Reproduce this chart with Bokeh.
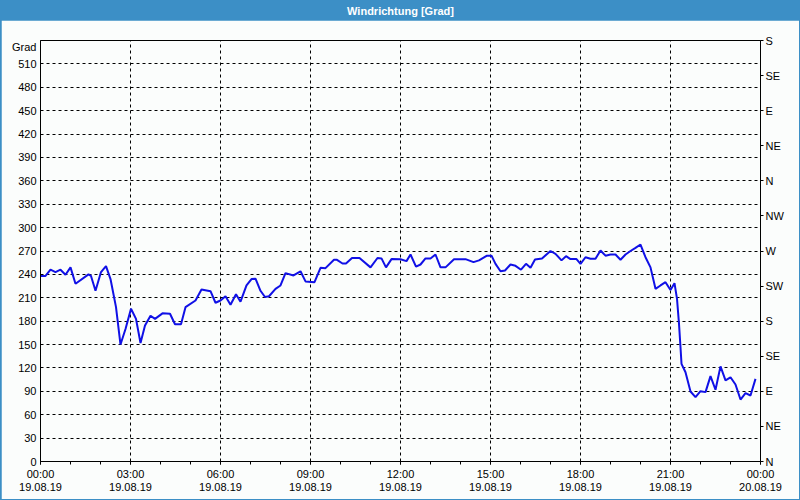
from bokeh.plotting import figure
from bokeh.models import (Range1d, LinearAxis, FixedTicker, ColumnDataSource)
from bokeh.layouts import column
from bokeh.embed import file_html
from bokeh.resources import INLINE
from bokeh.core.properties import value

# ---- data (minutes since 19.08.19 00:00, wind direction in degrees) ----
times_min = [0, 10, 20, 30, 40, 50, 60, 70, 96, 101, 110, 121, 131, 140, 151, 160, 170, 181, 191, 200,
             209, 220, 229, 244, 259, 269, 281, 290, 310, 322, 340, 350, 360, 370, 380, 391, 400, 412,
             422, 430, 440, 449, 457, 470, 480, 490, 506, 520, 530, 548, 560, 570, 587, 593, 604, 611,
             623, 638, 660, 674, 682, 691, 702, 720, 732, 740, 751, 760, 770, 780, 790, 800, 810, 827,
             850, 866, 877, 893, 902, 910, 920, 929, 940, 950, 961, 971, 980, 989, 1003, 1020, 1030,
             1042, 1051, 1060, 1072, 1080, 1090, 1100, 1110, 1120, 1130, 1140, 1150, 1160, 1170, 1180,
             1190, 1200, 1210, 1220, 1230, 1240, 1250, 1260, 1268, 1273, 1277, 1280, 1282, 1290, 1300,
             1310, 1320, 1330, 1340, 1350, 1360, 1370, 1380, 1390, 1400, 1410, 1420, 1430]
direction = [238, 238, 246, 243, 246, 239.5, 249, 228, 240, 238, 219, 243, 250.5, 234, 198, 150, 170, 196,
             183, 152, 174.5, 187, 183, 190, 189.5, 176, 176, 198, 206.5, 220.6, 218.5, 203.6, 206.5,
             212, 201, 214.6, 205, 225.8, 234, 234.5, 219, 211, 212, 221.5, 225.8, 241.6, 238.6, 244,
             231, 230, 248.5, 248, 258.7, 258.7, 254, 254, 261, 261, 249, 261, 260.5, 249, 259.6, 259.4,
             257, 265.5, 250, 252.7, 260.4, 260.4, 265.5, 249, 249, 259.5, 259.5, 255.7, 258, 264, 264,
             253.5, 244, 245, 252.7, 251, 246, 253.5, 248.4, 259, 260.5, 270, 266.4, 258, 263.4, 259.6,
             259.6, 253.5, 262, 260, 260, 270.7, 264, 265.5, 265.5, 258.7, 265.5, 270, 274, 278.3, 262,
             249, 221.5, 225.8, 230, 220, 228.7, 208.7, 176.6, 146.6, 125.3, 114.5, 89.8, 82.5, 90.2,
             89, 109.5, 92, 122, 104, 108, 98.8, 79.5, 87.6, 84.7, 106]

x_tick_hours = [0, 3, 6, 9, 12, 15, 18, 21, 24]
x_tick_times = ["00:00", "03:00", "06:00", "09:00", "12:00", "15:00", "18:00", "21:00", "00:00"]
x_tick_dates = ["19.08.19", "19.08.19", "19.08.19", "19.08.19", "19.08.19", "19.08.19",
                "19.08.19", "19.08.19", "20.08.19"]
y_ticks = [0, 30, 60, 90, 120, 150, 180, 210, 240, 270, 300, 330, 360, 390, 420, 450, 480, 510]
compass_ticks = [0, 45, 90, 135, 180, 225, 270, 315, 360, 405, 450, 495, 540]
compass_labels = ["N", "NE", "E", "SE", "S", "SW", "W", "NW", "N", "NE", "E", "SE", "S"]
title_text = "Windrichtung [Grad]"
unit_text = "Grad"
unit_pos = 532

FONT = "Liberation Sans"
BG = "#fbfdfc"
BLUE = "#3c8fc6"

# ---- title bar ----
tb = figure(width=800, height=20, output_backend="svg", toolbar_location=None,
            x_range=Range1d(0, 1), y_range=Range1d(0, 1),
            min_border=0, min_border_left=0, min_border_right=0, min_border_top=0, min_border_bottom=0)
tb.axis.visible = False
tb.grid.visible = False
tb.outline_line_color = None
tb.background_fill_color = BLUE
tb.border_fill_color = BLUE
tb.text(x=[0.5], y=[0.5], text=[title_text], text_align="center", text_baseline="middle",
        text_color="white", text_font=value(FONT), text_font_size="11px", text_font_style="bold")

# ---- main chart ----
hours = [m / 60.0 for m in times_min]
src = ColumnDataSource(data=dict(x=hours, y=direction))

p = figure(width=798, height=479, output_backend="svg", toolbar_location=None,
           x_range=Range1d(0, 24), y_range=Range1d(0, 540),
           min_border_left=39, min_border_right=39, min_border_top=20, min_border_bottom=38)
p.margin = (0, 1, 1, 1)
p.background_fill_color = BG
p.border_fill_color = BG
p.outline_line_color = "black"
p.outline_line_width = 1

p.line("x", "y", source=src, line_color="#1010e6", line_width=2)

# left axis (with the unit shown as an extra label at the top)
yax = p.yaxis[0]
yax.ticker = FixedTicker(ticks=y_ticks + [unit_pos])
yax.major_label_overrides = {unit_pos: unit_text}
yax.major_tick_out = 0
yax.major_tick_in = 0
yax.minor_tick_out = 0
yax.minor_tick_in = 0
yax.major_label_standoff = 4
yax.axis_line_color = "black"

# bottom axis (times)
xax = p.xaxis[0]
xax.ticker = FixedTicker(ticks=x_tick_hours, minor_ticks=list(range(0, 25)))
xax.major_label_overrides = {h: t for h, t in zip(x_tick_hours, x_tick_times)}
xax.major_tick_out = 3
xax.major_tick_in = 0
xax.minor_tick_out = 3
xax.minor_tick_in = 0
xax.major_label_standoff = 3
xax.axis_line_color = "black"

# bottom axis (dates)
xax2 = LinearAxis(ticker=FixedTicker(ticks=x_tick_hours),
                  major_label_overrides={h: d for h, d in zip(x_tick_hours, x_tick_dates)})
xax2.axis_line_color = None
xax2.major_tick_out = 0
xax2.major_tick_in = 0
xax2.minor_tick_out = 0
xax2.minor_tick_in = 0
xax2.major_label_standoff = 0
p.add_layout(xax2, "below")

# right axis (compass)
rax = LinearAxis(ticker=FixedTicker(ticks=compass_ticks),
                 major_label_overrides={t: l for t, l in zip(compass_ticks, compass_labels)})
rax.major_tick_out = 3
rax.major_tick_in = 0
rax.minor_tick_out = 0
rax.minor_tick_in = 0
rax.major_label_standoff = 2
rax.axis_line_color = "black"
p.add_layout(rax, "right")

for ax in [yax, xax, xax2, rax]:
    ax.major_label_text_font = FONT
    ax.major_label_text_font_size = "11px"
    ax.major_label_text_color = "black"
for ax in [yax, xax, rax]:
    ax.major_tick_line_color = "black"
    ax.minor_tick_line_color = "black"
xax2.major_tick_line_color = None
xax2.minor_tick_line_color = None

p.xgrid.ticker = FixedTicker(ticks=x_tick_hours)
p.ygrid.ticker = FixedTicker(ticks=y_ticks)
for g in [p.xgrid[0], p.ygrid[0]]:
    g.grid_line_color = "black"
    g.grid_line_dash = "3 3"
    g.grid_line_width = 1

layout = column(tb, p, styles={"background-color": BLUE})
open("out.html", "w").write(file_html(layout, INLINE))
